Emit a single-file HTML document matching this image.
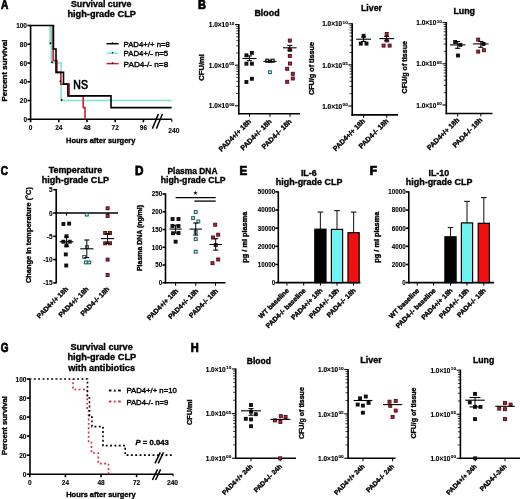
<!DOCTYPE html>
<html><head><meta charset="utf-8"><style>
html,body{margin:0;padding:0;background:#fff;}
svg{display:block;will-change:transform;}
text{font-family:"Liberation Sans", sans-serif;font-weight:bold;stroke:#000;stroke-width:0.35px;}
</style></head><body>
<svg width="520" height="499" viewBox="0 0 520 499">
<rect width="520" height="499" fill="#fff"/>
<text transform="translate(0.95 9.00) scale(0.832 1)" font-size="12.20" style="stroke-width:0.75px">A</text>
<text x="101.20" y="6.60" font-size="9.00" text-anchor="middle" textLength="60.50" lengthAdjust="spacingAndGlyphs">Survival curve</text>
<text x="101.70" y="16.70" font-size="9.00" text-anchor="middle" textLength="68.50" lengthAdjust="spacingAndGlyphs">high-grade CLP</text>
<line x1="27.40" y1="119.30" x2="30.60" y2="119.30" stroke="#000" stroke-width="1.60"/>
<text x="27.00" y="121.80" font-size="7.40" text-anchor="end" textLength="3.62" lengthAdjust="spacingAndGlyphs" style="stroke-width:0.12px">0</text>
<line x1="27.40" y1="100.54" x2="30.60" y2="100.54" stroke="#000" stroke-width="1.60"/>
<text x="27.00" y="103.04" font-size="7.40" text-anchor="end" textLength="7.23" lengthAdjust="spacingAndGlyphs" style="stroke-width:0.12px">20</text>
<line x1="27.40" y1="81.78" x2="30.60" y2="81.78" stroke="#000" stroke-width="1.60"/>
<text x="27.00" y="84.28" font-size="7.40" text-anchor="end" textLength="7.23" lengthAdjust="spacingAndGlyphs" style="stroke-width:0.12px">40</text>
<line x1="27.40" y1="63.02" x2="30.60" y2="63.02" stroke="#000" stroke-width="1.60"/>
<text x="27.00" y="65.52" font-size="7.40" text-anchor="end" textLength="7.23" lengthAdjust="spacingAndGlyphs" style="stroke-width:0.12px">60</text>
<line x1="27.40" y1="44.26" x2="30.60" y2="44.26" stroke="#000" stroke-width="1.60"/>
<text x="27.00" y="46.76" font-size="7.40" text-anchor="end" textLength="7.23" lengthAdjust="spacingAndGlyphs" style="stroke-width:0.12px">80</text>
<line x1="27.40" y1="25.50" x2="30.60" y2="25.50" stroke="#000" stroke-width="1.60"/>
<text x="27.00" y="28.00" font-size="7.40" text-anchor="end" textLength="10.85" lengthAdjust="spacingAndGlyphs" style="stroke-width:0.12px">100</text>
<line x1="30.60" y1="24.90" x2="30.60" y2="119.90" stroke="#000" stroke-width="1.60"/>
<line x1="30.00" y1="119.30" x2="171.60" y2="119.30" stroke="#000" stroke-width="1.60"/>
<line x1="30.60" y1="119.30" x2="30.60" y2="122.30" stroke="#000" stroke-width="1.60"/>
<text x="30.60" y="130.20" font-size="7.40" text-anchor="middle" textLength="3.62" lengthAdjust="spacingAndGlyphs" style="stroke-width:0.12px">0</text>
<line x1="58.80" y1="119.30" x2="58.80" y2="122.30" stroke="#000" stroke-width="1.60"/>
<text x="58.80" y="130.20" font-size="7.40" text-anchor="middle" textLength="7.23" lengthAdjust="spacingAndGlyphs" style="stroke-width:0.12px">24</text>
<line x1="87.00" y1="119.30" x2="87.00" y2="122.30" stroke="#000" stroke-width="1.60"/>
<text x="87.00" y="130.20" font-size="7.40" text-anchor="middle" textLength="7.23" lengthAdjust="spacingAndGlyphs" style="stroke-width:0.12px">48</text>
<line x1="115.20" y1="119.30" x2="115.20" y2="122.30" stroke="#000" stroke-width="1.60"/>
<text x="115.20" y="130.20" font-size="7.40" text-anchor="middle" textLength="7.23" lengthAdjust="spacingAndGlyphs" style="stroke-width:0.12px">72</text>
<line x1="143.40" y1="119.30" x2="143.40" y2="122.30" stroke="#000" stroke-width="1.60"/>
<text x="143.40" y="130.20" font-size="7.40" text-anchor="middle" textLength="7.23" lengthAdjust="spacingAndGlyphs" style="stroke-width:0.12px">96</text>
<text x="173.80" y="132.80" font-size="7.40" text-anchor="middle" textLength="11.18" lengthAdjust="spacingAndGlyphs" style="stroke-width:0.12px">240</text>
<line x1="152.40" y1="128.60" x2="158.40" y2="114.00" stroke="#000" stroke-width="1.50"/>
<line x1="156.40" y1="128.60" x2="162.40" y2="114.00" stroke="#000" stroke-width="1.50"/>
<line x1="171.80" y1="119.30" x2="171.80" y2="121.70" stroke="#000" stroke-width="1.20"/>
<text x="66.00" y="142.90" font-size="7.60" textLength="69.40" lengthAdjust="spacingAndGlyphs">Hours after surgery</text>
<text x="6.90" y="70.50" font-size="8.00" text-anchor="middle" textLength="62.00" lengthAdjust="spacingAndGlyphs" transform="rotate(-90 6.90 70.50)">Percent survival</text>
<rect x="50.60" y="26.20" width="2.20" height="34.00" fill="#a3bdb5"/>
<path d="M50.1 25.50 V44.26 H51.6 V63.02 H61.1 V100.54 H171.6" fill="none" stroke="#7fe3d0" stroke-width="1.50"/>
<path d="M53.3 25.50 V60.67 H57.0 V72.40 H60.8 V84.12 H69.2 V95.85 H83.2 V107.58 H85 V119.30" fill="none" stroke="#d0202e" stroke-width="1.60"/>
<path d="M30.6 25.50 H53.4 V48.95 H56.0 V72.40 H63.5 V84.12 H67.9 V95.85 H111 V107.58 H171.6" fill="none" stroke="#000" stroke-width="1.60"/>
<circle cx="50.50" cy="43.20" r="0.9" fill="#000"/>
<circle cx="52.00" cy="62.20" r="0.9" fill="#000"/>
<circle cx="60.40" cy="81.20" r="0.9" fill="#000"/>
<circle cx="61.70" cy="99.90" r="0.9" fill="#000"/>
<text x="73.30" y="88.60" font-size="12.00" textLength="14.60" lengthAdjust="spacingAndGlyphs" style="font-weight:normal;stroke-width:0.7px">NS</text>
<line x1="106.50" y1="43.70" x2="118.60" y2="43.70" stroke="#000" stroke-width="1.50"/>
<circle cx="112.5" cy="43.10" r="0.8" fill="#000"/>
<text x="123.60" y="46.80" font-size="7.80" style="font-weight:normal;stroke-width:0.4px" textLength="46.20" lengthAdjust="spacingAndGlyphs">PAD4+/+ n=8</text>
<line x1="106.50" y1="53.30" x2="118.60" y2="53.30" stroke="#7fe3d0" stroke-width="1.50"/>
<circle cx="112.5" cy="52.70" r="0.8" fill="#000"/>
<text x="123.60" y="56.40" font-size="7.80" style="font-weight:normal;stroke-width:0.4px" textLength="44.60" lengthAdjust="spacingAndGlyphs">PAD4+/- n=5</text>
<line x1="106.50" y1="63.60" x2="118.60" y2="63.60" stroke="#c02030" stroke-width="1.50"/>
<circle cx="112.5" cy="63.00" r="0.8" fill="#000"/>
<text x="123.60" y="66.70" font-size="7.80" style="font-weight:normal;stroke-width:0.4px" textLength="44.60" lengthAdjust="spacingAndGlyphs">PAD4-/- n=8</text>
<text transform="translate(198.06 9.00) scale(0.902 1)" font-size="12.20" style="stroke-width:0.75px">B</text>
<line x1="238.80" y1="24.00" x2="238.80" y2="114.60" stroke="#000" stroke-width="1.60"/>
<line x1="238.00" y1="113.80" x2="300.00" y2="113.80" stroke="#000" stroke-width="1.60"/>
<line x1="236.20" y1="93.58" x2="238.80" y2="93.58" stroke="#000" stroke-width="0.75"/>
<line x1="236.20" y1="86.43" x2="238.80" y2="86.43" stroke="#000" stroke-width="0.75"/>
<line x1="236.20" y1="81.36" x2="238.80" y2="81.36" stroke="#000" stroke-width="0.75"/>
<line x1="236.20" y1="77.42" x2="238.80" y2="77.42" stroke="#000" stroke-width="0.75"/>
<line x1="236.20" y1="74.21" x2="238.80" y2="74.21" stroke="#000" stroke-width="0.75"/>
<line x1="236.20" y1="71.49" x2="238.80" y2="71.49" stroke="#000" stroke-width="0.75"/>
<line x1="236.20" y1="69.13" x2="238.80" y2="69.13" stroke="#000" stroke-width="0.75"/>
<line x1="236.20" y1="67.06" x2="238.80" y2="67.06" stroke="#000" stroke-width="0.75"/>
<line x1="236.20" y1="52.98" x2="238.80" y2="52.98" stroke="#000" stroke-width="0.75"/>
<line x1="236.20" y1="45.83" x2="238.80" y2="45.83" stroke="#000" stroke-width="0.75"/>
<line x1="236.20" y1="40.76" x2="238.80" y2="40.76" stroke="#000" stroke-width="0.75"/>
<line x1="236.20" y1="36.82" x2="238.80" y2="36.82" stroke="#000" stroke-width="0.75"/>
<line x1="236.20" y1="33.61" x2="238.80" y2="33.61" stroke="#000" stroke-width="0.75"/>
<line x1="236.20" y1="30.89" x2="238.80" y2="30.89" stroke="#000" stroke-width="0.75"/>
<line x1="236.20" y1="28.53" x2="238.80" y2="28.53" stroke="#000" stroke-width="0.75"/>
<line x1="236.20" y1="26.46" x2="238.80" y2="26.46" stroke="#000" stroke-width="0.75"/>
<line x1="235.00" y1="24.60" x2="238.80" y2="24.60" stroke="#000" stroke-width="1.10"/>
<text x="228.80" y="27.20" font-size="6.40" text-anchor="end" textLength="20.00" lengthAdjust="spacingAndGlyphs" style="stroke-width:0.15px">1.0×10</text>
<text x="229.20" y="24.70" font-size="4.30" textLength="5.20" lengthAdjust="spacingAndGlyphs" style="stroke-width:0.1px">10</text>
<line x1="235.00" y1="65.20" x2="238.80" y2="65.20" stroke="#000" stroke-width="1.10"/>
<text x="228.80" y="67.80" font-size="6.40" text-anchor="end" textLength="20.00" lengthAdjust="spacingAndGlyphs" style="stroke-width:0.15px">1.0×10</text>
<text x="229.20" y="65.30" font-size="4.30" textLength="5.20" lengthAdjust="spacingAndGlyphs" style="stroke-width:0.1px">05</text>
<line x1="235.00" y1="105.80" x2="238.80" y2="105.80" stroke="#000" stroke-width="1.10"/>
<text x="228.80" y="108.40" font-size="6.40" text-anchor="end" textLength="20.00" lengthAdjust="spacingAndGlyphs" style="stroke-width:0.15px">1.0×10</text>
<text x="229.20" y="105.90" font-size="4.30" textLength="5.20" lengthAdjust="spacingAndGlyphs" style="stroke-width:0.1px">00</text>
<line x1="249.50" y1="113.80" x2="249.50" y2="116.80" stroke="#000" stroke-width="1.00"/>
<line x1="270.00" y1="113.80" x2="270.00" y2="116.80" stroke="#000" stroke-width="1.00"/>
<line x1="290.00" y1="113.80" x2="290.00" y2="116.80" stroke="#000" stroke-width="1.00"/>
<text x="267.00" y="15.80" font-size="8.80" text-anchor="middle" textLength="25.20" lengthAdjust="spacingAndGlyphs">Blood</text>
<text x="204.00" y="67.40" font-size="7.00" text-anchor="middle" textLength="26.70" lengthAdjust="spacingAndGlyphs" transform="rotate(-90 204.00 67.40)">CFU/ml</text>
<rect x="244.45" y="53.35" width="3.90" height="3.90" fill="#111"/>
<rect x="249.95" y="50.95" width="3.90" height="3.90" fill="#111"/>
<rect x="244.45" y="61.75" width="3.90" height="3.90" fill="#111"/>
<rect x="249.95" y="61.75" width="3.90" height="3.90" fill="#111"/>
<rect x="244.45" y="80.05" width="3.90" height="3.90" fill="#111"/>
<rect x="249.95" y="76.85" width="3.90" height="3.90" fill="#111"/>
<line x1="242.40" y1="58.50" x2="256.40" y2="58.50" stroke="#000" stroke-width="1.10"/>
<line x1="249.40" y1="55.90" x2="249.40" y2="60.70" stroke="#000" stroke-width="0.99"/>
<line x1="246.90" y1="55.90" x2="251.90" y2="55.90" stroke="#000" stroke-width="1.10"/>
<line x1="246.90" y1="60.70" x2="251.90" y2="60.70" stroke="#000" stroke-width="1.10"/>
<rect x="265.85" y="59.25" width="2.90" height="2.90" fill="#fff" stroke="#0c2222" stroke-width="1.30"/>
<rect x="271.15" y="59.25" width="2.90" height="2.90" fill="#fff" stroke="#0c2222" stroke-width="1.30"/>
<rect x="268.50" y="70.80" width="2.80" height="2.80" fill="#f4ffff" stroke="#1d6060" stroke-width="1.10"/>
<line x1="263.30" y1="61.40" x2="276.50" y2="61.40" stroke="#000" stroke-width="1.10"/>
<line x1="269.90" y1="60.60" x2="269.90" y2="62.20" stroke="#000" stroke-width="0.99"/>
<line x1="267.90" y1="60.60" x2="271.90" y2="60.60" stroke="#000" stroke-width="1.10"/>
<line x1="267.90" y1="62.20" x2="271.90" y2="62.20" stroke="#000" stroke-width="1.10"/>
<rect x="288.30" y="39.10" width="3.00" height="3.00" fill="#b3273a" stroke="#4a0a12" stroke-width="0.90"/>
<rect x="288.30" y="48.40" width="3.00" height="3.00" fill="#b3273a" stroke="#4a0a12" stroke-width="0.90"/>
<rect x="288.30" y="54.40" width="3.00" height="3.00" fill="#b3273a" stroke="#4a0a12" stroke-width="0.90"/>
<rect x="288.50" y="62.00" width="3.00" height="3.00" fill="#b3273a" stroke="#4a0a12" stroke-width="0.90"/>
<rect x="285.70" y="67.30" width="3.00" height="3.00" fill="#b3273a" stroke="#4a0a12" stroke-width="0.90"/>
<rect x="291.30" y="72.30" width="3.00" height="3.00" fill="#b3273a" stroke="#4a0a12" stroke-width="0.90"/>
<rect x="291.30" y="77.00" width="3.00" height="3.00" fill="#b3273a" stroke="#4a0a12" stroke-width="0.90"/>
<rect x="285.70" y="80.30" width="3.00" height="3.00" fill="#b3273a" stroke="#4a0a12" stroke-width="0.90"/>
<line x1="283.00" y1="47.80" x2="296.60" y2="47.80" stroke="#000" stroke-width="1.10"/>
<line x1="289.80" y1="45.40" x2="289.80" y2="50.20" stroke="#000" stroke-width="0.99"/>
<line x1="287.30" y1="45.40" x2="292.30" y2="45.40" stroke="#000" stroke-width="1.10"/>
<line x1="287.30" y1="50.20" x2="292.30" y2="50.20" stroke="#000" stroke-width="1.10"/>
<text x="251.50" y="122.00" font-size="7.00" text-anchor="end" transform="rotate(-45 251.50 122.00)">PAD4+/+ 18h</text>
<text x="272.00" y="122.00" font-size="7.00" text-anchor="end" transform="rotate(-45 272.00 122.00)">PAD4+/- 18h</text>
<text x="292.00" y="122.00" font-size="7.00" text-anchor="end" transform="rotate(-45 292.00 122.00)">PAD4-/- 18h</text>
<line x1="352.20" y1="23.20" x2="352.20" y2="115.70" stroke="#000" stroke-width="1.60"/>
<line x1="351.40" y1="114.90" x2="398.00" y2="114.90" stroke="#000" stroke-width="1.60"/>
<line x1="349.60" y1="93.63" x2="352.20" y2="93.63" stroke="#000" stroke-width="0.75"/>
<line x1="349.60" y1="86.39" x2="352.20" y2="86.39" stroke="#000" stroke-width="0.75"/>
<line x1="349.60" y1="81.26" x2="352.20" y2="81.26" stroke="#000" stroke-width="0.75"/>
<line x1="349.60" y1="77.27" x2="352.20" y2="77.27" stroke="#000" stroke-width="0.75"/>
<line x1="349.60" y1="74.02" x2="352.20" y2="74.02" stroke="#000" stroke-width="0.75"/>
<line x1="349.60" y1="71.27" x2="352.20" y2="71.27" stroke="#000" stroke-width="0.75"/>
<line x1="349.60" y1="68.88" x2="352.20" y2="68.88" stroke="#000" stroke-width="0.75"/>
<line x1="349.60" y1="66.78" x2="352.20" y2="66.78" stroke="#000" stroke-width="0.75"/>
<line x1="349.60" y1="52.53" x2="352.20" y2="52.53" stroke="#000" stroke-width="0.75"/>
<line x1="349.60" y1="45.29" x2="352.20" y2="45.29" stroke="#000" stroke-width="0.75"/>
<line x1="349.60" y1="40.16" x2="352.20" y2="40.16" stroke="#000" stroke-width="0.75"/>
<line x1="349.60" y1="36.17" x2="352.20" y2="36.17" stroke="#000" stroke-width="0.75"/>
<line x1="349.60" y1="32.92" x2="352.20" y2="32.92" stroke="#000" stroke-width="0.75"/>
<line x1="349.60" y1="30.17" x2="352.20" y2="30.17" stroke="#000" stroke-width="0.75"/>
<line x1="349.60" y1="27.78" x2="352.20" y2="27.78" stroke="#000" stroke-width="0.75"/>
<line x1="349.60" y1="25.68" x2="352.20" y2="25.68" stroke="#000" stroke-width="0.75"/>
<line x1="348.40" y1="23.80" x2="352.20" y2="23.80" stroke="#000" stroke-width="1.10"/>
<text x="342.20" y="26.40" font-size="6.40" text-anchor="end" textLength="20.00" lengthAdjust="spacingAndGlyphs" style="stroke-width:0.15px">1.0×10</text>
<text x="342.60" y="23.90" font-size="4.30" textLength="5.20" lengthAdjust="spacingAndGlyphs" style="stroke-width:0.1px">10</text>
<line x1="348.40" y1="64.90" x2="352.20" y2="64.90" stroke="#000" stroke-width="1.10"/>
<text x="342.20" y="67.50" font-size="6.40" text-anchor="end" textLength="20.00" lengthAdjust="spacingAndGlyphs" style="stroke-width:0.15px">1.0×10</text>
<text x="342.60" y="65.00" font-size="4.30" textLength="5.20" lengthAdjust="spacingAndGlyphs" style="stroke-width:0.1px">05</text>
<line x1="348.40" y1="106.00" x2="352.20" y2="106.00" stroke="#000" stroke-width="1.10"/>
<text x="342.20" y="108.60" font-size="6.40" text-anchor="end" textLength="20.00" lengthAdjust="spacingAndGlyphs" style="stroke-width:0.15px">1.0×10</text>
<text x="342.60" y="106.10" font-size="4.30" textLength="5.20" lengthAdjust="spacingAndGlyphs" style="stroke-width:0.1px">00</text>
<line x1="363.60" y1="114.90" x2="363.60" y2="117.90" stroke="#000" stroke-width="1.00"/>
<line x1="386.80" y1="114.90" x2="386.80" y2="117.90" stroke="#000" stroke-width="1.00"/>
<text x="371.50" y="11.00" font-size="8.60" text-anchor="middle" textLength="21.00" lengthAdjust="spacingAndGlyphs">Liver</text>
<text x="313.90" y="68.50" font-size="7.40" text-anchor="middle" textLength="53.00" lengthAdjust="spacingAndGlyphs" transform="rotate(-90 313.90 68.50)">CFU/g of tissue</text>
<rect x="361.65" y="33.85" width="3.90" height="3.90" fill="#111"/>
<rect x="358.85" y="41.65" width="3.90" height="3.90" fill="#111"/>
<rect x="364.55" y="41.65" width="3.90" height="3.90" fill="#111"/>
<line x1="356.20" y1="39.20" x2="371.00" y2="39.20" stroke="#000" stroke-width="1.10"/>
<line x1="363.60" y1="36.90" x2="363.60" y2="41.50" stroke="#000" stroke-width="0.99"/>
<line x1="361.10" y1="36.90" x2="366.10" y2="36.90" stroke="#000" stroke-width="1.10"/>
<line x1="361.10" y1="41.50" x2="366.10" y2="41.50" stroke="#000" stroke-width="1.10"/>
<rect x="385.20" y="32.50" width="3.00" height="3.00" fill="#b3273a" stroke="#4a0a12" stroke-width="0.90"/>
<rect x="385.20" y="38.90" width="3.00" height="3.00" fill="#b3273a" stroke="#4a0a12" stroke-width="0.90"/>
<rect x="382.10" y="44.10" width="3.00" height="3.00" fill="#b3273a" stroke="#4a0a12" stroke-width="0.90"/>
<rect x="388.10" y="44.10" width="3.00" height="3.00" fill="#b3273a" stroke="#4a0a12" stroke-width="0.90"/>
<line x1="379.30" y1="38.60" x2="394.10" y2="38.60" stroke="#000" stroke-width="1.10"/>
<line x1="386.70" y1="36.40" x2="386.70" y2="40.80" stroke="#000" stroke-width="0.99"/>
<line x1="384.20" y1="36.40" x2="389.20" y2="36.40" stroke="#000" stroke-width="1.10"/>
<line x1="384.20" y1="40.80" x2="389.20" y2="40.80" stroke="#000" stroke-width="1.10"/>
<text x="365.60" y="121.50" font-size="7.00" text-anchor="end" transform="rotate(-45 365.60 121.50)">PAD4+/+ 18h</text>
<text x="389.00" y="121.50" font-size="7.00" text-anchor="end" transform="rotate(-45 389.00 121.50)">PAD4-/- 18h</text>
<line x1="446.30" y1="22.00" x2="446.30" y2="114.30" stroke="#000" stroke-width="1.60"/>
<line x1="445.50" y1="113.50" x2="492.50" y2="113.50" stroke="#000" stroke-width="1.60"/>
<line x1="443.70" y1="92.60" x2="446.30" y2="92.60" stroke="#000" stroke-width="0.75"/>
<line x1="443.70" y1="85.34" x2="446.30" y2="85.34" stroke="#000" stroke-width="0.75"/>
<line x1="443.70" y1="80.20" x2="446.30" y2="80.20" stroke="#000" stroke-width="0.75"/>
<line x1="443.70" y1="76.20" x2="446.30" y2="76.20" stroke="#000" stroke-width="0.75"/>
<line x1="443.70" y1="72.94" x2="446.30" y2="72.94" stroke="#000" stroke-width="0.75"/>
<line x1="443.70" y1="70.18" x2="446.30" y2="70.18" stroke="#000" stroke-width="0.75"/>
<line x1="443.70" y1="67.79" x2="446.30" y2="67.79" stroke="#000" stroke-width="0.75"/>
<line x1="443.70" y1="65.69" x2="446.30" y2="65.69" stroke="#000" stroke-width="0.75"/>
<line x1="443.70" y1="51.40" x2="446.30" y2="51.40" stroke="#000" stroke-width="0.75"/>
<line x1="443.70" y1="44.14" x2="446.30" y2="44.14" stroke="#000" stroke-width="0.75"/>
<line x1="443.70" y1="39.00" x2="446.30" y2="39.00" stroke="#000" stroke-width="0.75"/>
<line x1="443.70" y1="35.00" x2="446.30" y2="35.00" stroke="#000" stroke-width="0.75"/>
<line x1="443.70" y1="31.74" x2="446.30" y2="31.74" stroke="#000" stroke-width="0.75"/>
<line x1="443.70" y1="28.98" x2="446.30" y2="28.98" stroke="#000" stroke-width="0.75"/>
<line x1="443.70" y1="26.59" x2="446.30" y2="26.59" stroke="#000" stroke-width="0.75"/>
<line x1="443.70" y1="24.49" x2="446.30" y2="24.49" stroke="#000" stroke-width="0.75"/>
<line x1="442.50" y1="22.60" x2="446.30" y2="22.60" stroke="#000" stroke-width="1.10"/>
<text x="436.30" y="25.20" font-size="6.40" text-anchor="end" textLength="20.00" lengthAdjust="spacingAndGlyphs" style="stroke-width:0.15px">1.0×10</text>
<text x="436.70" y="22.70" font-size="4.30" textLength="5.20" lengthAdjust="spacingAndGlyphs" style="stroke-width:0.1px">10</text>
<line x1="442.50" y1="63.80" x2="446.30" y2="63.80" stroke="#000" stroke-width="1.10"/>
<text x="436.30" y="66.40" font-size="6.40" text-anchor="end" textLength="20.00" lengthAdjust="spacingAndGlyphs" style="stroke-width:0.15px">1.0×10</text>
<text x="436.70" y="63.90" font-size="4.30" textLength="5.20" lengthAdjust="spacingAndGlyphs" style="stroke-width:0.1px">05</text>
<line x1="442.50" y1="105.00" x2="446.30" y2="105.00" stroke="#000" stroke-width="1.10"/>
<text x="436.30" y="107.60" font-size="6.40" text-anchor="end" textLength="20.00" lengthAdjust="spacingAndGlyphs" style="stroke-width:0.15px">1.0×10</text>
<text x="436.70" y="105.10" font-size="4.30" textLength="5.20" lengthAdjust="spacingAndGlyphs" style="stroke-width:0.1px">00</text>
<line x1="457.70" y1="113.50" x2="457.70" y2="116.50" stroke="#000" stroke-width="1.00"/>
<line x1="480.80" y1="113.50" x2="480.80" y2="116.50" stroke="#000" stroke-width="1.00"/>
<text x="464.20" y="14.30" font-size="8.80" text-anchor="middle" textLength="21.60" lengthAdjust="spacingAndGlyphs">Lung</text>
<text x="407.40" y="67.20" font-size="7.40" text-anchor="middle" textLength="52.50" lengthAdjust="spacingAndGlyphs" transform="rotate(-90 407.40 67.20)">CFU/g of tissue</text>
<rect x="453.15" y="40.05" width="3.90" height="3.90" fill="#111"/>
<rect x="458.45" y="42.95" width="3.90" height="3.90" fill="#111"/>
<rect x="456.05" y="53.55" width="3.90" height="3.90" fill="#111"/>
<line x1="449.90" y1="44.90" x2="465.50" y2="44.90" stroke="#000" stroke-width="1.10"/>
<line x1="457.70" y1="41.50" x2="457.70" y2="48.30" stroke="#000" stroke-width="0.99"/>
<line x1="455.20" y1="41.50" x2="460.20" y2="41.50" stroke="#000" stroke-width="1.10"/>
<line x1="455.20" y1="48.30" x2="460.20" y2="48.30" stroke="#000" stroke-width="1.10"/>
<rect x="476.70" y="38.10" width="3.00" height="3.00" fill="#b3273a" stroke="#4a0a12" stroke-width="0.90"/>
<rect x="476.70" y="50.10" width="3.00" height="3.00" fill="#b3273a" stroke="#4a0a12" stroke-width="0.90"/>
<rect x="482.40" y="48.70" width="3.00" height="3.00" fill="#b3273a" stroke="#4a0a12" stroke-width="0.90"/>
<rect x="482.00" y="42.40" width="3.00" height="3.00" fill="#2a0508" stroke="#1a0004" stroke-width="0.90"/>
<line x1="473.00" y1="43.90" x2="488.60" y2="43.90" stroke="#000" stroke-width="1.10"/>
<line x1="480.80" y1="41.50" x2="480.80" y2="47.30" stroke="#000" stroke-width="0.99"/>
<line x1="478.30" y1="41.50" x2="483.30" y2="41.50" stroke="#000" stroke-width="1.10"/>
<line x1="478.30" y1="47.30" x2="483.30" y2="47.30" stroke="#000" stroke-width="1.10"/>
<text x="459.70" y="120.50" font-size="7.00" text-anchor="end" transform="rotate(-45 459.70 120.50)">PAD4+/+ 18h</text>
<text x="482.80" y="120.50" font-size="7.00" text-anchor="end" transform="rotate(-45 482.80 120.50)">PAD4-/- 18h</text>
<text transform="translate(0.79 175.00) scale(0.816 1)" font-size="12.20" style="stroke-width:0.75px">C</text>
<text x="75.40" y="172.80" font-size="8.90" text-anchor="middle" textLength="53.50" lengthAdjust="spacingAndGlyphs">Temperature</text>
<text x="75.30" y="182.80" font-size="8.90" text-anchor="middle" textLength="67.30" lengthAdjust="spacingAndGlyphs">high-grade CLP</text>
<line x1="56.20" y1="189.10" x2="56.20" y2="283.50" stroke="#000" stroke-width="1.60"/>
<line x1="53.20" y1="189.70" x2="56.20" y2="189.70" stroke="#000" stroke-width="1.60"/>
<text x="52.60" y="192.20" font-size="7.40" text-anchor="end" textLength="3.62" lengthAdjust="spacingAndGlyphs" style="stroke-width:0.12px">5</text>
<line x1="53.20" y1="213.00" x2="56.20" y2="213.00" stroke="#000" stroke-width="1.60"/>
<text x="52.60" y="215.50" font-size="7.40" text-anchor="end" textLength="3.62" lengthAdjust="spacingAndGlyphs" style="stroke-width:0.12px">0</text>
<line x1="53.20" y1="236.30" x2="56.20" y2="236.30" stroke="#000" stroke-width="1.60"/>
<text x="52.60" y="238.80" font-size="7.40" text-anchor="end" textLength="5.78" lengthAdjust="spacingAndGlyphs" style="stroke-width:0.12px">-5</text>
<line x1="53.20" y1="259.60" x2="56.20" y2="259.60" stroke="#000" stroke-width="1.60"/>
<text x="52.60" y="262.10" font-size="7.40" text-anchor="end" textLength="9.40" lengthAdjust="spacingAndGlyphs" style="stroke-width:0.12px">-10</text>
<line x1="53.20" y1="282.90" x2="56.20" y2="282.90" stroke="#000" stroke-width="1.60"/>
<text x="52.60" y="285.40" font-size="7.40" text-anchor="end" textLength="9.40" lengthAdjust="spacingAndGlyphs" style="stroke-width:0.12px">-15</text>
<line x1="56.20" y1="213.00" x2="118.00" y2="213.00" stroke="#000" stroke-width="1.60"/>
<line x1="66.50" y1="213.00" x2="66.50" y2="215.80" stroke="#000" stroke-width="1.00"/>
<line x1="86.80" y1="213.00" x2="86.80" y2="215.80" stroke="#000" stroke-width="1.00"/>
<line x1="107.80" y1="213.00" x2="107.80" y2="215.80" stroke="#000" stroke-width="1.00"/>
<text x="30.60" y="235.10" font-size="7.50" text-anchor="middle" textLength="96.00" lengthAdjust="spacingAndGlyphs" transform="rotate(-90 30.60 235.10)">Change in temperature (°C)</text>
<rect x="61.45" y="222.05" width="3.90" height="3.90" fill="#111"/>
<rect x="67.15" y="221.65" width="3.90" height="3.90" fill="#111"/>
<rect x="64.55" y="234.25" width="3.90" height="3.90" fill="#111"/>
<rect x="61.35" y="239.75" width="3.90" height="3.90" fill="#111"/>
<rect x="67.75" y="239.75" width="3.90" height="3.90" fill="#111"/>
<rect x="64.55" y="243.55" width="3.90" height="3.90" fill="#111"/>
<rect x="63.85" y="252.45" width="3.90" height="3.90" fill="#111"/>
<rect x="64.25" y="263.55" width="3.90" height="3.90" fill="#111"/>
<line x1="59.70" y1="241.80" x2="73.30" y2="241.80" stroke="#000" stroke-width="1.10"/>
<line x1="66.50" y1="237.00" x2="66.50" y2="246.30" stroke="#000" stroke-width="0.99"/>
<line x1="64.00" y1="237.00" x2="69.00" y2="237.00" stroke="#000" stroke-width="1.10"/>
<line x1="64.00" y1="246.30" x2="69.00" y2="246.30" stroke="#000" stroke-width="1.10"/>
<rect x="85.40" y="213.20" width="2.80" height="2.80" fill="#f4ffff" stroke="#1d6060" stroke-width="1.10"/>
<rect x="85.60" y="245.60" width="2.80" height="2.80" fill="#f4ffff" stroke="#1d6060" stroke-width="1.10"/>
<rect x="82.80" y="255.60" width="2.80" height="2.80" fill="#f4ffff" stroke="#1d6060" stroke-width="1.10"/>
<rect x="84.40" y="261.00" width="2.80" height="2.80" fill="#f4ffff" stroke="#1d6060" stroke-width="1.10"/>
<rect x="87.80" y="261.00" width="2.80" height="2.80" fill="#f4ffff" stroke="#1d6060" stroke-width="1.10"/>
<line x1="80.20" y1="248.80" x2="93.40" y2="248.80" stroke="#000" stroke-width="1.10"/>
<line x1="86.80" y1="240.00" x2="86.80" y2="257.60" stroke="#000" stroke-width="0.99"/>
<line x1="84.30" y1="240.00" x2="89.30" y2="240.00" stroke="#000" stroke-width="1.10"/>
<line x1="84.30" y1="257.60" x2="89.30" y2="257.60" stroke="#000" stroke-width="1.10"/>
<rect x="106.10" y="206.80" width="3.00" height="3.00" fill="#b3273a" stroke="#4a0a12" stroke-width="0.90"/>
<rect x="106.10" y="214.50" width="3.00" height="3.00" fill="#b3273a" stroke="#4a0a12" stroke-width="0.90"/>
<rect x="103.70" y="231.50" width="3.00" height="3.00" fill="#b3273a" stroke="#4a0a12" stroke-width="0.90"/>
<rect x="108.50" y="231.50" width="3.00" height="3.00" fill="#b3273a" stroke="#4a0a12" stroke-width="0.90"/>
<rect x="103.70" y="241.80" width="3.00" height="3.00" fill="#b3273a" stroke="#4a0a12" stroke-width="0.90"/>
<rect x="108.50" y="241.80" width="3.00" height="3.00" fill="#b3273a" stroke="#4a0a12" stroke-width="0.90"/>
<rect x="106.10" y="258.10" width="3.00" height="3.00" fill="#b3273a" stroke="#4a0a12" stroke-width="0.90"/>
<rect x="106.10" y="273.50" width="3.00" height="3.00" fill="#b3273a" stroke="#4a0a12" stroke-width="0.90"/>
<line x1="101.00" y1="238.60" x2="114.20" y2="238.60" stroke="#000" stroke-width="1.10"/>
<line x1="107.60" y1="233.60" x2="107.60" y2="243.50" stroke="#000" stroke-width="0.99"/>
<line x1="105.10" y1="233.60" x2="110.10" y2="233.60" stroke="#000" stroke-width="1.10"/>
<line x1="105.10" y1="243.50" x2="110.10" y2="243.50" stroke="#000" stroke-width="1.10"/>
<text x="68.60" y="289.60" font-size="6.80" text-anchor="end" transform="rotate(-45 68.60 289.60)">PAD4+/+ 18h</text>
<text x="89.00" y="289.60" font-size="6.80" text-anchor="end" transform="rotate(-45 89.00 289.60)">PAD4+/- 18h</text>
<text x="109.80" y="289.60" font-size="6.80" text-anchor="end" transform="rotate(-45 109.80 289.60)">PAD4-/- 18h</text>
<text transform="translate(135.11 174.90) scale(0.964 1)" font-size="12.20" style="stroke-width:0.75px">D</text>
<text x="192.50" y="173.60" font-size="8.90" text-anchor="middle" textLength="50.00" lengthAdjust="spacingAndGlyphs">Plasma DNA</text>
<text x="193.20" y="183.00" font-size="8.90" text-anchor="middle" textLength="64.80" lengthAdjust="spacingAndGlyphs">high-grade CLP</text>
<line x1="165.50" y1="193.40" x2="165.50" y2="283.40" stroke="#000" stroke-width="1.60"/>
<line x1="162.50" y1="282.80" x2="165.50" y2="282.80" stroke="#000" stroke-width="1.60"/>
<text x="162.10" y="285.20" font-size="7.00" text-anchor="end" textLength="3.45" lengthAdjust="spacingAndGlyphs" style="stroke-width:0.12px">0</text>
<line x1="162.50" y1="265.04" x2="165.50" y2="265.04" stroke="#000" stroke-width="1.60"/>
<text x="162.10" y="267.44" font-size="7.00" text-anchor="end" textLength="6.90" lengthAdjust="spacingAndGlyphs" style="stroke-width:0.12px">50</text>
<line x1="162.50" y1="247.28" x2="165.50" y2="247.28" stroke="#000" stroke-width="1.60"/>
<text x="162.10" y="249.68" font-size="7.00" text-anchor="end" textLength="10.34" lengthAdjust="spacingAndGlyphs" style="stroke-width:0.12px">100</text>
<line x1="162.50" y1="229.52" x2="165.50" y2="229.52" stroke="#000" stroke-width="1.60"/>
<text x="162.10" y="231.92" font-size="7.00" text-anchor="end" textLength="10.34" lengthAdjust="spacingAndGlyphs" style="stroke-width:0.12px">150</text>
<line x1="162.50" y1="211.76" x2="165.50" y2="211.76" stroke="#000" stroke-width="1.60"/>
<text x="162.10" y="214.16" font-size="7.00" text-anchor="end" textLength="10.34" lengthAdjust="spacingAndGlyphs" style="stroke-width:0.12px">200</text>
<line x1="162.50" y1="194.00" x2="165.50" y2="194.00" stroke="#000" stroke-width="1.60"/>
<text x="162.10" y="196.40" font-size="7.00" text-anchor="end" textLength="10.34" lengthAdjust="spacingAndGlyphs" style="stroke-width:0.12px">250</text>
<line x1="164.90" y1="282.80" x2="225.50" y2="282.80" stroke="#000" stroke-width="1.60"/>
<line x1="175.60" y1="282.80" x2="175.60" y2="285.80" stroke="#000" stroke-width="1.00"/>
<line x1="195.70" y1="282.80" x2="195.70" y2="285.80" stroke="#000" stroke-width="1.00"/>
<line x1="215.50" y1="282.80" x2="215.50" y2="285.80" stroke="#000" stroke-width="1.00"/>
<text x="142.30" y="238.00" font-size="7.00" text-anchor="middle" textLength="66.00" lengthAdjust="spacingAndGlyphs" transform="rotate(-90 142.30 238.00)">Plasma DNA (ng/ml)</text>
<line x1="175.60" y1="197.60" x2="215.70" y2="197.60" stroke="#000" stroke-width="1.30"/>
<line x1="194.40" y1="201.10" x2="215.70" y2="201.10" stroke="#000" stroke-width="1.30"/>
<polygon points="195.50,190.70 196.06,192.23 197.69,192.29 196.40,193.29 196.85,194.86 195.50,193.95 194.15,194.86 194.60,193.29 193.31,192.29 194.94,192.23" fill="#000"/>
<rect x="170.55" y="217.05" width="3.90" height="3.90" fill="#111"/>
<rect x="176.55" y="217.05" width="3.90" height="3.90" fill="#111"/>
<rect x="170.55" y="224.05" width="3.90" height="3.90" fill="#111"/>
<rect x="176.55" y="224.05" width="3.90" height="3.90" fill="#111"/>
<rect x="171.05" y="231.25" width="3.90" height="3.90" fill="#111"/>
<rect x="176.55" y="231.05" width="3.90" height="3.90" fill="#111"/>
<rect x="173.65" y="239.75" width="3.90" height="3.90" fill="#111"/>
<line x1="169.40" y1="229.10" x2="181.80" y2="229.10" stroke="#000" stroke-width="1.10"/>
<line x1="175.60" y1="225.30" x2="175.60" y2="233.00" stroke="#000" stroke-width="0.99"/>
<line x1="173.10" y1="225.30" x2="178.10" y2="225.30" stroke="#000" stroke-width="1.10"/>
<line x1="173.10" y1="233.00" x2="178.10" y2="233.00" stroke="#000" stroke-width="1.10"/>
<rect x="191.70" y="216.70" width="2.80" height="2.80" fill="#f4ffff" stroke="#1d6060" stroke-width="1.10"/>
<rect x="194.30" y="210.60" width="2.80" height="2.80" fill="#f4ffff" stroke="#1d6060" stroke-width="1.10"/>
<rect x="196.90" y="220.10" width="2.80" height="2.80" fill="#f4ffff" stroke="#1d6060" stroke-width="1.10"/>
<rect x="194.30" y="230.60" width="2.80" height="2.80" fill="#f4ffff" stroke="#1d6060" stroke-width="1.10"/>
<rect x="194.30" y="237.70" width="2.80" height="2.80" fill="#f4ffff" stroke="#1d6060" stroke-width="1.10"/>
<rect x="194.30" y="250.30" width="2.80" height="2.80" fill="#f4ffff" stroke="#1d6060" stroke-width="1.10"/>
<line x1="189.50" y1="229.10" x2="201.90" y2="229.10" stroke="#000" stroke-width="1.10"/>
<line x1="195.70" y1="223.00" x2="195.70" y2="235.10" stroke="#000" stroke-width="0.99"/>
<line x1="193.20" y1="223.00" x2="198.20" y2="223.00" stroke="#000" stroke-width="1.10"/>
<line x1="193.20" y1="235.10" x2="198.20" y2="235.10" stroke="#000" stroke-width="1.10"/>
<rect x="213.70" y="223.20" width="3.00" height="3.00" fill="#b3273a" stroke="#4a0a12" stroke-width="0.90"/>
<rect x="211.50" y="236.00" width="3.00" height="3.00" fill="#b3273a" stroke="#4a0a12" stroke-width="0.90"/>
<rect x="216.70" y="233.20" width="3.00" height="3.00" fill="#b3273a" stroke="#4a0a12" stroke-width="0.90"/>
<rect x="214.20" y="243.60" width="3.00" height="3.00" fill="#b3273a" stroke="#4a0a12" stroke-width="0.90"/>
<rect x="211.00" y="261.70" width="3.00" height="3.00" fill="#b3273a" stroke="#4a0a12" stroke-width="0.90"/>
<rect x="216.70" y="258.00" width="3.00" height="3.00" fill="#b3273a" stroke="#4a0a12" stroke-width="0.90"/>
<line x1="209.50" y1="244.50" x2="221.90" y2="244.50" stroke="#000" stroke-width="1.10"/>
<line x1="215.70" y1="238.70" x2="215.70" y2="250.10" stroke="#000" stroke-width="0.99"/>
<line x1="213.20" y1="238.70" x2="218.20" y2="238.70" stroke="#000" stroke-width="1.10"/>
<line x1="213.20" y1="250.10" x2="218.20" y2="250.10" stroke="#000" stroke-width="1.10"/>
<text x="178.80" y="291.50" font-size="6.80" text-anchor="end" transform="rotate(-45 178.80 291.50)">PAD4+/+ 18h</text>
<text x="198.80" y="291.50" font-size="6.80" text-anchor="end" transform="rotate(-45 198.80 291.50)">PAD4+/- 18h</text>
<text x="218.50" y="291.50" font-size="6.80" text-anchor="end" transform="rotate(-45 218.50 291.50)">PAD4-/- 18h</text>
<text transform="translate(239.62 174.90) scale(0.951 1)" font-size="12.20" style="stroke-width:0.75px">E</text>
<text x="308.80" y="175.80" font-size="8.90" text-anchor="middle">IL-6</text>
<text x="309.10" y="185.20" font-size="8.90" text-anchor="middle" textLength="66.60" lengthAdjust="spacingAndGlyphs">high-grade CLP</text>
<line x1="278.30" y1="191.30" x2="278.30" y2="283.20" stroke="#000" stroke-width="1.60"/>
<line x1="275.30" y1="282.60" x2="278.30" y2="282.60" stroke="#000" stroke-width="1.60"/>
<text x="275.10" y="285.00" font-size="7.00" text-anchor="end" textLength="3.45" lengthAdjust="spacingAndGlyphs" style="stroke-width:0.12px">0</text>
<line x1="275.30" y1="264.46" x2="278.30" y2="264.46" stroke="#000" stroke-width="1.60"/>
<text x="275.10" y="266.86" font-size="7.00" text-anchor="end" textLength="17.24" lengthAdjust="spacingAndGlyphs" style="stroke-width:0.12px">10000</text>
<line x1="275.30" y1="246.32" x2="278.30" y2="246.32" stroke="#000" stroke-width="1.60"/>
<text x="275.10" y="248.72" font-size="7.00" text-anchor="end" textLength="17.24" lengthAdjust="spacingAndGlyphs" style="stroke-width:0.12px">20000</text>
<line x1="275.30" y1="228.18" x2="278.30" y2="228.18" stroke="#000" stroke-width="1.60"/>
<text x="275.10" y="230.58" font-size="7.00" text-anchor="end" textLength="17.24" lengthAdjust="spacingAndGlyphs" style="stroke-width:0.12px">30000</text>
<line x1="275.30" y1="210.04" x2="278.30" y2="210.04" stroke="#000" stroke-width="1.60"/>
<text x="275.10" y="212.44" font-size="7.00" text-anchor="end" textLength="17.24" lengthAdjust="spacingAndGlyphs" style="stroke-width:0.12px">40000</text>
<line x1="275.30" y1="191.90" x2="278.30" y2="191.90" stroke="#000" stroke-width="1.60"/>
<text x="275.10" y="194.30" font-size="7.00" text-anchor="end" textLength="17.24" lengthAdjust="spacingAndGlyphs" style="stroke-width:0.12px">50000</text>
<line x1="277.70" y1="282.60" x2="360.40" y2="282.60" stroke="#000" stroke-width="1.60"/>
<line x1="286.90" y1="282.60" x2="286.90" y2="285.60" stroke="#000" stroke-width="1.00"/>
<line x1="303.70" y1="282.60" x2="303.70" y2="285.60" stroke="#000" stroke-width="1.00"/>
<line x1="320.40" y1="282.60" x2="320.40" y2="285.60" stroke="#000" stroke-width="1.00"/>
<line x1="337.00" y1="282.60" x2="337.00" y2="285.60" stroke="#000" stroke-width="1.00"/>
<line x1="353.60" y1="282.60" x2="353.60" y2="285.60" stroke="#000" stroke-width="1.00"/>
<line x1="320.40" y1="212.10" x2="320.40" y2="229.20" stroke="#222" stroke-width="1.10"/>
<line x1="317.60" y1="212.10" x2="323.20" y2="212.10" stroke="#222" stroke-width="1.20"/>
<rect x="314.80" y="229.20" width="11.20" height="53.40" fill="#000" stroke="#000" stroke-width="1.20"/>
<line x1="337.00" y1="210.60" x2="337.00" y2="229.40" stroke="#222" stroke-width="1.10"/>
<line x1="334.20" y1="210.60" x2="339.80" y2="210.60" stroke="#222" stroke-width="1.20"/>
<rect x="331.40" y="229.40" width="11.20" height="53.20" fill="#6ef2f2" stroke="#000" stroke-width="1.20"/>
<line x1="353.60" y1="212.10" x2="353.60" y2="232.70" stroke="#222" stroke-width="1.10"/>
<line x1="350.80" y1="212.10" x2="356.40" y2="212.10" stroke="#222" stroke-width="1.20"/>
<rect x="348.00" y="232.70" width="11.20" height="49.90" fill="#f01010" stroke="#000" stroke-width="1.20"/>
<text x="247.00" y="237.20" font-size="7.00" text-anchor="middle" textLength="51.00" lengthAdjust="spacingAndGlyphs" transform="rotate(-90 247.00 237.20)">pg / ml plasma</text>
<text x="289.40" y="291.00" font-size="6.80" text-anchor="end" transform="rotate(-45 289.40 291.00)">WT baseline</text>
<text x="306.20" y="291.00" font-size="6.80" text-anchor="end" transform="rotate(-45 306.20 291.00)">PAD4-/- baseline</text>
<text x="322.90" y="291.00" font-size="6.80" text-anchor="end" transform="rotate(-45 322.90 291.00)">PAD4+/+ 18h</text>
<text x="339.50" y="291.00" font-size="6.80" text-anchor="end" transform="rotate(-45 339.50 291.00)">PAD4+/- 18h</text>
<text x="356.10" y="291.00" font-size="6.80" text-anchor="end" transform="rotate(-45 356.10 291.00)">PAD4-/- 18h</text>
<text transform="translate(369.79 174.90) scale(0.988 1)" font-size="12.20" style="stroke-width:0.75px">F</text>
<text x="438.80" y="175.80" font-size="8.90" text-anchor="middle">IL-10</text>
<text x="439.10" y="185.20" font-size="8.90" text-anchor="middle" textLength="66.60" lengthAdjust="spacingAndGlyphs">high-grade CLP</text>
<line x1="408.80" y1="191.30" x2="408.80" y2="283.20" stroke="#000" stroke-width="1.60"/>
<line x1="405.80" y1="282.60" x2="408.80" y2="282.60" stroke="#000" stroke-width="1.60"/>
<text x="405.60" y="285.00" font-size="7.00" text-anchor="end" textLength="3.45" lengthAdjust="spacingAndGlyphs" style="stroke-width:0.12px">0</text>
<line x1="405.80" y1="264.46" x2="408.80" y2="264.46" stroke="#000" stroke-width="1.60"/>
<text x="405.60" y="266.86" font-size="7.00" text-anchor="end" textLength="13.79" lengthAdjust="spacingAndGlyphs" style="stroke-width:0.12px">2000</text>
<line x1="405.80" y1="246.32" x2="408.80" y2="246.32" stroke="#000" stroke-width="1.60"/>
<text x="405.60" y="248.72" font-size="7.00" text-anchor="end" textLength="13.79" lengthAdjust="spacingAndGlyphs" style="stroke-width:0.12px">4000</text>
<line x1="405.80" y1="228.18" x2="408.80" y2="228.18" stroke="#000" stroke-width="1.60"/>
<text x="405.60" y="230.58" font-size="7.00" text-anchor="end" textLength="13.79" lengthAdjust="spacingAndGlyphs" style="stroke-width:0.12px">6000</text>
<line x1="405.80" y1="210.04" x2="408.80" y2="210.04" stroke="#000" stroke-width="1.60"/>
<text x="405.60" y="212.44" font-size="7.00" text-anchor="end" textLength="13.79" lengthAdjust="spacingAndGlyphs" style="stroke-width:0.12px">8000</text>
<line x1="405.80" y1="191.90" x2="408.80" y2="191.90" stroke="#000" stroke-width="1.60"/>
<text x="405.60" y="194.30" font-size="7.00" text-anchor="end" textLength="17.24" lengthAdjust="spacingAndGlyphs" style="stroke-width:0.12px">10000</text>
<line x1="408.20" y1="282.60" x2="494.00" y2="282.60" stroke="#000" stroke-width="1.60"/>
<line x1="417.30" y1="282.60" x2="417.30" y2="285.60" stroke="#000" stroke-width="1.00"/>
<line x1="433.60" y1="282.60" x2="433.60" y2="285.60" stroke="#000" stroke-width="1.00"/>
<line x1="450.50" y1="282.60" x2="450.50" y2="285.60" stroke="#000" stroke-width="1.00"/>
<line x1="467.00" y1="282.60" x2="467.00" y2="285.60" stroke="#000" stroke-width="1.00"/>
<line x1="483.80" y1="282.60" x2="483.80" y2="285.60" stroke="#000" stroke-width="1.00"/>
<line x1="450.50" y1="227.50" x2="450.50" y2="236.80" stroke="#222" stroke-width="1.10"/>
<line x1="447.70" y1="227.50" x2="453.30" y2="227.50" stroke="#222" stroke-width="1.20"/>
<rect x="444.90" y="236.80" width="11.20" height="45.80" fill="#000" stroke="#000" stroke-width="1.20"/>
<line x1="467.00" y1="201.40" x2="467.00" y2="222.90" stroke="#222" stroke-width="1.10"/>
<line x1="464.20" y1="201.40" x2="469.80" y2="201.40" stroke="#222" stroke-width="1.20"/>
<rect x="461.40" y="222.90" width="11.20" height="59.70" fill="#6ef2f2" stroke="#000" stroke-width="1.20"/>
<line x1="483.80" y1="197.60" x2="483.80" y2="223.30" stroke="#222" stroke-width="1.10"/>
<line x1="481.00" y1="197.60" x2="486.60" y2="197.60" stroke="#222" stroke-width="1.20"/>
<rect x="478.20" y="223.30" width="11.20" height="59.30" fill="#f01010" stroke="#000" stroke-width="1.20"/>
<text x="378.60" y="237.20" font-size="7.00" text-anchor="middle" textLength="51.00" lengthAdjust="spacingAndGlyphs" transform="rotate(-90 378.60 237.20)">pg / ml plasma</text>
<text x="419.80" y="291.00" font-size="6.80" text-anchor="end" transform="rotate(-45 419.80 291.00)">WT baseline</text>
<text x="436.10" y="291.00" font-size="6.80" text-anchor="end" transform="rotate(-45 436.10 291.00)">PAD4-/- baseline</text>
<text x="453.00" y="291.00" font-size="6.80" text-anchor="end" transform="rotate(-45 453.00 291.00)">PAD4+/+ 18h</text>
<text x="469.50" y="291.00" font-size="6.80" text-anchor="end" transform="rotate(-45 469.50 291.00)">PAD4+/- 18h</text>
<text x="486.30" y="291.00" font-size="6.80" text-anchor="end" transform="rotate(-45 486.30 291.00)">PAD4-/- 18h</text>
<text transform="translate(0.79 351.60) scale(0.815 1)" font-size="12.20" style="stroke-width:0.75px">G</text>
<text x="101.60" y="349.80" font-size="9.00" text-anchor="middle" textLength="62.30" lengthAdjust="spacingAndGlyphs">Survival curve</text>
<text x="101.80" y="360.20" font-size="9.00" text-anchor="middle" textLength="68.80" lengthAdjust="spacingAndGlyphs">high-grade CLP</text>
<text x="101.60" y="370.60" font-size="9.00" text-anchor="middle" textLength="66.90" lengthAdjust="spacingAndGlyphs">with antibiotics</text>
<line x1="26.80" y1="474.20" x2="30.00" y2="474.20" stroke="#000" stroke-width="1.60"/>
<text x="26.40" y="476.70" font-size="7.40" text-anchor="end" textLength="3.62" lengthAdjust="spacingAndGlyphs" style="stroke-width:0.12px">0</text>
<line x1="26.80" y1="455.16" x2="30.00" y2="455.16" stroke="#000" stroke-width="1.60"/>
<text x="26.40" y="457.66" font-size="7.40" text-anchor="end" textLength="7.23" lengthAdjust="spacingAndGlyphs" style="stroke-width:0.12px">20</text>
<line x1="26.80" y1="436.12" x2="30.00" y2="436.12" stroke="#000" stroke-width="1.60"/>
<text x="26.40" y="438.62" font-size="7.40" text-anchor="end" textLength="7.23" lengthAdjust="spacingAndGlyphs" style="stroke-width:0.12px">40</text>
<line x1="26.80" y1="417.08" x2="30.00" y2="417.08" stroke="#000" stroke-width="1.60"/>
<text x="26.40" y="419.58" font-size="7.40" text-anchor="end" textLength="7.23" lengthAdjust="spacingAndGlyphs" style="stroke-width:0.12px">60</text>
<line x1="26.80" y1="398.04" x2="30.00" y2="398.04" stroke="#000" stroke-width="1.60"/>
<text x="26.40" y="400.54" font-size="7.40" text-anchor="end" textLength="7.23" lengthAdjust="spacingAndGlyphs" style="stroke-width:0.12px">80</text>
<line x1="26.80" y1="379.00" x2="30.00" y2="379.00" stroke="#000" stroke-width="1.60"/>
<text x="26.40" y="381.50" font-size="7.40" text-anchor="end" textLength="10.85" lengthAdjust="spacingAndGlyphs" style="stroke-width:0.12px">100</text>
<line x1="30.00" y1="378.40" x2="30.00" y2="474.80" stroke="#000" stroke-width="1.60"/>
<line x1="29.40" y1="474.20" x2="173.40" y2="474.20" stroke="#000" stroke-width="1.60"/>
<line x1="29.80" y1="474.20" x2="29.80" y2="477.20" stroke="#000" stroke-width="1.60"/>
<text x="29.80" y="484.50" font-size="7.40" text-anchor="middle" textLength="3.62" lengthAdjust="spacingAndGlyphs" style="stroke-width:0.12px">0</text>
<line x1="65.40" y1="474.20" x2="65.40" y2="477.20" stroke="#000" stroke-width="1.60"/>
<text x="65.40" y="484.50" font-size="7.40" text-anchor="middle" textLength="7.23" lengthAdjust="spacingAndGlyphs" style="stroke-width:0.12px">24</text>
<line x1="101.00" y1="474.20" x2="101.00" y2="477.20" stroke="#000" stroke-width="1.60"/>
<text x="101.00" y="484.50" font-size="7.40" text-anchor="middle" textLength="7.23" lengthAdjust="spacingAndGlyphs" style="stroke-width:0.12px">48</text>
<line x1="136.60" y1="474.20" x2="136.60" y2="477.20" stroke="#000" stroke-width="1.60"/>
<text x="136.60" y="484.50" font-size="7.40" text-anchor="middle" textLength="7.23" lengthAdjust="spacingAndGlyphs" style="stroke-width:0.12px">72</text>
<text x="172.50" y="484.80" font-size="7.40" text-anchor="middle" textLength="11.18" lengthAdjust="spacingAndGlyphs" style="stroke-width:0.12px">240</text>
<line x1="152.40" y1="480.00" x2="157.60" y2="469.40" stroke="#000" stroke-width="1.50"/>
<line x1="155.60" y1="480.00" x2="160.60" y2="469.40" stroke="#000" stroke-width="1.50"/>
<line x1="155.00" y1="463.30" x2="160.30" y2="452.30" stroke="#000" stroke-width="1.50"/>
<line x1="158.20" y1="463.30" x2="163.50" y2="452.30" stroke="#000" stroke-width="1.50"/>
<line x1="173.00" y1="474.20" x2="173.00" y2="476.20" stroke="#000" stroke-width="1.20"/>
<text x="66.20" y="497.30" font-size="7.60" textLength="69.40" lengthAdjust="spacingAndGlyphs">Hours after surgery</text>
<text x="7.00" y="425.60" font-size="8.00" text-anchor="middle" textLength="59.00" lengthAdjust="spacingAndGlyphs" transform="rotate(-90 7.00 425.60)">Percent survival</text>
<path d="M73.0 379.00 V389.57 H87.2 V410.70 H88.6 V442.50 H91.5 V453.07 H98.3 V463.63 H108.5 V474.20" fill="none" stroke="#d42a3a" stroke-width="1.60" stroke-dasharray="1.9 2.43" stroke-dashoffset="1.08"/>
<path d="M30.6 379.00 H87.5 V398.04 H89.5 V417.08 H92.0 V426.60 H103.0 V445.64 H125.2 V455.16 H173.4" fill="none" stroke="#000" stroke-width="1.60" stroke-dasharray="1.9 2.43" stroke-dashoffset="1.08"/>
<text x="135.60" y="444.60" font-size="7.60" textLength="33.20" lengthAdjust="spacingAndGlyphs"><tspan font-style="italic">P</tspan> = 0.043</text>
<line x1="108.90" y1="390.50" x2="111.40" y2="390.50" stroke="#000" stroke-width="1.90"/>
<line x1="118.20" y1="390.50" x2="120.80" y2="390.50" stroke="#000" stroke-width="1.90"/>
<polygon points="113.40,391.50 116.20,391.50 114.80,389.00" fill="#000"/>
<line x1="108.90" y1="401.50" x2="111.40" y2="401.50" stroke="#d42a3a" stroke-width="1.90"/>
<line x1="118.20" y1="401.50" x2="120.80" y2="401.50" stroke="#d42a3a" stroke-width="1.90"/>
<polygon points="113.40,402.50 116.20,402.50 114.80,400.00" fill="#d42a3a"/>
<text x="126.40" y="393.10" font-size="7.80" style="font-weight:normal;stroke-width:0.4px" textLength="50.40" lengthAdjust="spacingAndGlyphs">PAD4+/+ n=10</text>
<text x="126.40" y="404.60" font-size="7.80" style="font-weight:normal;stroke-width:0.4px" textLength="42.00" lengthAdjust="spacingAndGlyphs">PAD4-/- n=9</text>
<text transform="translate(190.66 351.60) scale(0.908 1)" font-size="12.20" style="stroke-width:0.75px">H</text>
<line x1="235.70" y1="368.40" x2="235.70" y2="459.10" stroke="#000" stroke-width="1.60"/>
<line x1="234.90" y1="458.30" x2="296.00" y2="458.30" stroke="#000" stroke-width="1.60"/>
<line x1="233.10" y1="444.86" x2="235.70" y2="444.86" stroke="#000" stroke-width="0.75"/>
<line x1="233.10" y1="437.00" x2="235.70" y2="437.00" stroke="#000" stroke-width="0.75"/>
<line x1="233.10" y1="431.42" x2="235.70" y2="431.42" stroke="#000" stroke-width="0.75"/>
<line x1="233.10" y1="427.09" x2="235.70" y2="427.09" stroke="#000" stroke-width="0.75"/>
<line x1="233.10" y1="423.56" x2="235.70" y2="423.56" stroke="#000" stroke-width="0.75"/>
<line x1="233.10" y1="420.57" x2="235.70" y2="420.57" stroke="#000" stroke-width="0.75"/>
<line x1="233.10" y1="417.98" x2="235.70" y2="417.98" stroke="#000" stroke-width="0.75"/>
<line x1="233.10" y1="415.69" x2="235.70" y2="415.69" stroke="#000" stroke-width="0.75"/>
<line x1="233.10" y1="400.21" x2="235.70" y2="400.21" stroke="#000" stroke-width="0.75"/>
<line x1="233.10" y1="392.35" x2="235.70" y2="392.35" stroke="#000" stroke-width="0.75"/>
<line x1="233.10" y1="386.77" x2="235.70" y2="386.77" stroke="#000" stroke-width="0.75"/>
<line x1="233.10" y1="382.44" x2="235.70" y2="382.44" stroke="#000" stroke-width="0.75"/>
<line x1="233.10" y1="378.91" x2="235.70" y2="378.91" stroke="#000" stroke-width="0.75"/>
<line x1="233.10" y1="375.92" x2="235.70" y2="375.92" stroke="#000" stroke-width="0.75"/>
<line x1="233.10" y1="373.33" x2="235.70" y2="373.33" stroke="#000" stroke-width="0.75"/>
<line x1="233.10" y1="371.04" x2="235.70" y2="371.04" stroke="#000" stroke-width="0.75"/>
<line x1="231.90" y1="369.00" x2="235.70" y2="369.00" stroke="#000" stroke-width="1.10"/>
<text x="225.70" y="371.60" font-size="6.40" text-anchor="end" textLength="20.00" lengthAdjust="spacingAndGlyphs" style="stroke-width:0.15px">1.0×10</text>
<text x="226.10" y="369.10" font-size="4.30" textLength="5.20" lengthAdjust="spacingAndGlyphs" style="stroke-width:0.1px">10</text>
<line x1="231.90" y1="413.65" x2="235.70" y2="413.65" stroke="#000" stroke-width="1.10"/>
<text x="225.70" y="416.25" font-size="6.40" text-anchor="end" textLength="20.00" lengthAdjust="spacingAndGlyphs" style="stroke-width:0.15px">1.0×10</text>
<text x="226.10" y="413.75" font-size="4.30" textLength="5.20" lengthAdjust="spacingAndGlyphs" style="stroke-width:0.1px">05</text>
<line x1="231.90" y1="458.30" x2="235.70" y2="458.30" stroke="#000" stroke-width="1.10"/>
<text x="225.70" y="460.90" font-size="6.40" text-anchor="end" textLength="20.00" lengthAdjust="spacingAndGlyphs" style="stroke-width:0.15px">1.0×10</text>
<text x="226.10" y="458.40" font-size="4.30" textLength="5.20" lengthAdjust="spacingAndGlyphs" style="stroke-width:0.1px">00</text>
<line x1="251.00" y1="458.30" x2="251.00" y2="461.30" stroke="#000" stroke-width="1.00"/>
<line x1="280.20" y1="458.30" x2="280.20" y2="461.30" stroke="#000" stroke-width="1.00"/>
<text x="258.80" y="363.80" font-size="8.60" text-anchor="middle" textLength="24.10" lengthAdjust="spacingAndGlyphs">Blood</text>
<rect x="249.05" y="403.05" width="3.90" height="3.90" fill="#111"/>
<rect x="249.05" y="409.75" width="3.90" height="3.90" fill="#111"/>
<rect x="253.85" y="412.25" width="3.90" height="3.90" fill="#111"/>
<rect x="243.85" y="416.85" width="3.90" height="3.90" fill="#111"/>
<rect x="249.05" y="417.45" width="3.90" height="3.90" fill="#111"/>
<rect x="249.05" y="424.25" width="3.90" height="3.90" fill="#111"/>
<line x1="241.00" y1="410.80" x2="261.00" y2="410.80" stroke="#000" stroke-width="1.10"/>
<line x1="251.00" y1="408.60" x2="251.00" y2="415.20" stroke="#000" stroke-width="0.99"/>
<line x1="248.50" y1="408.60" x2="253.50" y2="408.60" stroke="#000" stroke-width="1.10"/>
<line x1="248.50" y1="415.20" x2="253.50" y2="415.20" stroke="#000" stroke-width="1.10"/>
<rect x="279.30" y="414.70" width="3.00" height="3.00" fill="#b3273a" stroke="#4a0a12" stroke-width="0.90"/>
<rect x="284.10" y="415.50" width="3.00" height="3.00" fill="#b3273a" stroke="#4a0a12" stroke-width="0.90"/>
<rect x="273.50" y="418.90" width="3.00" height="3.00" fill="#b3273a" stroke="#4a0a12" stroke-width="0.90"/>
<rect x="278.90" y="420.40" width="3.00" height="3.00" fill="#b3273a" stroke="#4a0a12" stroke-width="0.90"/>
<rect x="278.70" y="456.80" width="3.00" height="3.00" fill="#b3273a" stroke="#4a0a12" stroke-width="0.90"/>
<line x1="270.40" y1="419.40" x2="290.40" y2="419.40" stroke="#000" stroke-width="1.10"/>
<line x1="280.40" y1="419.40" x2="280.40" y2="419.40" stroke="#000" stroke-width="0.99"/>
<line x1="280.40" y1="419.40" x2="280.40" y2="419.40" stroke="#000" stroke-width="1.10"/>
<line x1="280.40" y1="419.40" x2="280.40" y2="419.40" stroke="#000" stroke-width="1.10"/>
<text x="253.00" y="467.00" font-size="6.60" text-anchor="end" transform="rotate(-45 253.00 467.00)">PAD4+/+ 24h</text>
<text x="282.30" y="467.00" font-size="6.60" text-anchor="end" transform="rotate(-45 282.30 467.00)">PAD4-/- 24h</text>
<text x="191.60" y="412.30" font-size="7.00" text-anchor="middle" textLength="25.50" lengthAdjust="spacingAndGlyphs" transform="rotate(-90 191.60 412.30)">CFU/ml</text>
<line x1="348.10" y1="368.90" x2="348.10" y2="459.10" stroke="#000" stroke-width="1.60"/>
<line x1="347.30" y1="458.30" x2="395.50" y2="458.30" stroke="#000" stroke-width="1.60"/>
<line x1="345.50" y1="444.93" x2="348.10" y2="444.93" stroke="#000" stroke-width="0.75"/>
<line x1="345.50" y1="437.12" x2="348.10" y2="437.12" stroke="#000" stroke-width="0.75"/>
<line x1="345.50" y1="431.57" x2="348.10" y2="431.57" stroke="#000" stroke-width="0.75"/>
<line x1="345.50" y1="427.27" x2="348.10" y2="427.27" stroke="#000" stroke-width="0.75"/>
<line x1="345.50" y1="423.75" x2="348.10" y2="423.75" stroke="#000" stroke-width="0.75"/>
<line x1="345.50" y1="420.78" x2="348.10" y2="420.78" stroke="#000" stroke-width="0.75"/>
<line x1="345.50" y1="418.20" x2="348.10" y2="418.20" stroke="#000" stroke-width="0.75"/>
<line x1="345.50" y1="415.93" x2="348.10" y2="415.93" stroke="#000" stroke-width="0.75"/>
<line x1="345.50" y1="400.53" x2="348.10" y2="400.53" stroke="#000" stroke-width="0.75"/>
<line x1="345.50" y1="392.72" x2="348.10" y2="392.72" stroke="#000" stroke-width="0.75"/>
<line x1="345.50" y1="387.17" x2="348.10" y2="387.17" stroke="#000" stroke-width="0.75"/>
<line x1="345.50" y1="382.87" x2="348.10" y2="382.87" stroke="#000" stroke-width="0.75"/>
<line x1="345.50" y1="379.35" x2="348.10" y2="379.35" stroke="#000" stroke-width="0.75"/>
<line x1="345.50" y1="376.38" x2="348.10" y2="376.38" stroke="#000" stroke-width="0.75"/>
<line x1="345.50" y1="373.80" x2="348.10" y2="373.80" stroke="#000" stroke-width="0.75"/>
<line x1="345.50" y1="371.53" x2="348.10" y2="371.53" stroke="#000" stroke-width="0.75"/>
<line x1="344.30" y1="369.50" x2="348.10" y2="369.50" stroke="#000" stroke-width="1.10"/>
<text x="338.10" y="372.10" font-size="6.40" text-anchor="end" textLength="20.00" lengthAdjust="spacingAndGlyphs" style="stroke-width:0.15px">1.0×10</text>
<text x="338.50" y="369.60" font-size="4.30" textLength="5.20" lengthAdjust="spacingAndGlyphs" style="stroke-width:0.1px">10</text>
<line x1="344.30" y1="413.90" x2="348.10" y2="413.90" stroke="#000" stroke-width="1.10"/>
<text x="338.10" y="416.50" font-size="6.40" text-anchor="end" textLength="20.00" lengthAdjust="spacingAndGlyphs" style="stroke-width:0.15px">1.0×10</text>
<text x="338.50" y="414.00" font-size="4.30" textLength="5.20" lengthAdjust="spacingAndGlyphs" style="stroke-width:0.1px">05</text>
<line x1="344.30" y1="458.30" x2="348.10" y2="458.30" stroke="#000" stroke-width="1.10"/>
<text x="338.10" y="460.90" font-size="6.40" text-anchor="end" textLength="20.00" lengthAdjust="spacingAndGlyphs" style="stroke-width:0.15px">1.0×10</text>
<text x="338.50" y="458.40" font-size="4.30" textLength="5.20" lengthAdjust="spacingAndGlyphs" style="stroke-width:0.1px">00</text>
<line x1="363.00" y1="458.30" x2="363.00" y2="461.30" stroke="#000" stroke-width="1.00"/>
<line x1="392.60" y1="458.30" x2="392.60" y2="461.30" stroke="#000" stroke-width="1.00"/>
<text x="371.00" y="363.20" font-size="8.60" text-anchor="middle" textLength="21.70" lengthAdjust="spacingAndGlyphs">Liver</text>
<text x="304.20" y="413.10" font-size="7.40" text-anchor="middle" textLength="52.00" lengthAdjust="spacingAndGlyphs" transform="rotate(-90 304.20 413.10)">CFU/g of tissue</text>
<rect x="358.05" y="396.35" width="3.90" height="3.90" fill="#111"/>
<rect x="363.85" y="394.55" width="3.90" height="3.90" fill="#111"/>
<rect x="355.75" y="402.65" width="3.90" height="3.90" fill="#111"/>
<rect x="360.95" y="403.65" width="3.90" height="3.90" fill="#111"/>
<rect x="366.65" y="400.95" width="3.90" height="3.90" fill="#111"/>
<rect x="360.95" y="410.75" width="3.90" height="3.90" fill="#111"/>
<line x1="353.60" y1="400.50" x2="372.40" y2="400.50" stroke="#000" stroke-width="1.10"/>
<line x1="363.00" y1="400.50" x2="363.00" y2="400.50" stroke="#000" stroke-width="0.99"/>
<line x1="363.00" y1="400.50" x2="363.00" y2="400.50" stroke="#000" stroke-width="1.10"/>
<line x1="363.00" y1="400.50" x2="363.00" y2="400.50" stroke="#000" stroke-width="1.10"/>
<rect x="388.00" y="400.20" width="3.00" height="3.00" fill="#b3273a" stroke="#4a0a12" stroke-width="0.90"/>
<rect x="394.20" y="399.50" width="3.00" height="3.00" fill="#b3273a" stroke="#4a0a12" stroke-width="0.90"/>
<rect x="388.70" y="404.30" width="3.00" height="3.00" fill="#b3273a" stroke="#4a0a12" stroke-width="0.90"/>
<rect x="394.20" y="409.10" width="3.00" height="3.00" fill="#b3273a" stroke="#4a0a12" stroke-width="0.90"/>
<rect x="391.10" y="415.40" width="3.00" height="3.00" fill="#b3273a" stroke="#4a0a12" stroke-width="0.90"/>
<line x1="383.00" y1="404.60" x2="402.20" y2="404.60" stroke="#000" stroke-width="1.10"/>
<line x1="392.60" y1="404.60" x2="392.60" y2="404.60" stroke="#000" stroke-width="0.99"/>
<line x1="392.60" y1="404.60" x2="392.60" y2="404.60" stroke="#000" stroke-width="1.10"/>
<line x1="392.60" y1="404.60" x2="392.60" y2="404.60" stroke="#000" stroke-width="1.10"/>
<text x="365.00" y="467.00" font-size="6.60" text-anchor="end" transform="rotate(-45 365.00 467.00)">PAD4+/+ 24h</text>
<text x="394.60" y="467.00" font-size="6.60" text-anchor="end" transform="rotate(-45 394.60 467.00)">PAD4-/- 24h</text>
<line x1="460.40" y1="369.60" x2="460.40" y2="459.10" stroke="#000" stroke-width="1.60"/>
<line x1="459.60" y1="458.30" x2="520.00" y2="458.30" stroke="#000" stroke-width="1.60"/>
<line x1="457.80" y1="445.04" x2="460.40" y2="445.04" stroke="#000" stroke-width="0.75"/>
<line x1="457.80" y1="437.28" x2="460.40" y2="437.28" stroke="#000" stroke-width="0.75"/>
<line x1="457.80" y1="431.78" x2="460.40" y2="431.78" stroke="#000" stroke-width="0.75"/>
<line x1="457.80" y1="427.51" x2="460.40" y2="427.51" stroke="#000" stroke-width="0.75"/>
<line x1="457.80" y1="424.02" x2="460.40" y2="424.02" stroke="#000" stroke-width="0.75"/>
<line x1="457.80" y1="421.07" x2="460.40" y2="421.07" stroke="#000" stroke-width="0.75"/>
<line x1="457.80" y1="418.52" x2="460.40" y2="418.52" stroke="#000" stroke-width="0.75"/>
<line x1="457.80" y1="416.27" x2="460.40" y2="416.27" stroke="#000" stroke-width="0.75"/>
<line x1="457.80" y1="400.99" x2="460.40" y2="400.99" stroke="#000" stroke-width="0.75"/>
<line x1="457.80" y1="393.23" x2="460.40" y2="393.23" stroke="#000" stroke-width="0.75"/>
<line x1="457.80" y1="387.73" x2="460.40" y2="387.73" stroke="#000" stroke-width="0.75"/>
<line x1="457.80" y1="383.46" x2="460.40" y2="383.46" stroke="#000" stroke-width="0.75"/>
<line x1="457.80" y1="379.97" x2="460.40" y2="379.97" stroke="#000" stroke-width="0.75"/>
<line x1="457.80" y1="377.02" x2="460.40" y2="377.02" stroke="#000" stroke-width="0.75"/>
<line x1="457.80" y1="374.47" x2="460.40" y2="374.47" stroke="#000" stroke-width="0.75"/>
<line x1="457.80" y1="372.22" x2="460.40" y2="372.22" stroke="#000" stroke-width="0.75"/>
<line x1="456.60" y1="370.20" x2="460.40" y2="370.20" stroke="#000" stroke-width="1.10"/>
<text x="450.40" y="372.80" font-size="6.40" text-anchor="end" textLength="20.00" lengthAdjust="spacingAndGlyphs" style="stroke-width:0.15px">1.0×10</text>
<text x="450.80" y="370.30" font-size="4.30" textLength="5.20" lengthAdjust="spacingAndGlyphs" style="stroke-width:0.1px">10</text>
<line x1="456.60" y1="414.25" x2="460.40" y2="414.25" stroke="#000" stroke-width="1.10"/>
<text x="450.40" y="416.85" font-size="6.40" text-anchor="end" textLength="20.00" lengthAdjust="spacingAndGlyphs" style="stroke-width:0.15px">1.0×10</text>
<text x="450.80" y="414.35" font-size="4.30" textLength="5.20" lengthAdjust="spacingAndGlyphs" style="stroke-width:0.1px">05</text>
<line x1="456.60" y1="458.30" x2="460.40" y2="458.30" stroke="#000" stroke-width="1.10"/>
<text x="450.40" y="460.90" font-size="6.40" text-anchor="end" textLength="20.00" lengthAdjust="spacingAndGlyphs" style="stroke-width:0.15px">1.0×10</text>
<text x="450.80" y="458.40" font-size="4.30" textLength="5.20" lengthAdjust="spacingAndGlyphs" style="stroke-width:0.1px">00</text>
<line x1="475.20" y1="458.30" x2="475.20" y2="461.30" stroke="#000" stroke-width="1.00"/>
<line x1="505.00" y1="458.30" x2="505.00" y2="461.30" stroke="#000" stroke-width="1.00"/>
<text x="483.60" y="363.20" font-size="8.60" text-anchor="middle" textLength="21.20" lengthAdjust="spacingAndGlyphs">Lung</text>
<text x="416.40" y="413.00" font-size="7.40" text-anchor="middle" textLength="51.00" lengthAdjust="spacingAndGlyphs" transform="rotate(-90 416.40 413.00)">CFU/g of tissue</text>
<rect x="473.05" y="391.95" width="3.90" height="3.90" fill="#111"/>
<rect x="467.85" y="400.45" width="3.90" height="3.90" fill="#111"/>
<rect x="473.05" y="404.95" width="3.90" height="3.90" fill="#111"/>
<rect x="478.55" y="404.95" width="3.90" height="3.90" fill="#111"/>
<rect x="473.05" y="417.15" width="3.90" height="3.90" fill="#111"/>
<rect x="473.25" y="456.35" width="3.90" height="3.90" fill="#111"/>
<line x1="465.20" y1="400.20" x2="484.80" y2="400.20" stroke="#000" stroke-width="1.10"/>
<line x1="475.00" y1="397.50" x2="475.00" y2="406.90" stroke="#000" stroke-width="0.99"/>
<line x1="469.50" y1="397.50" x2="480.50" y2="397.50" stroke="#000" stroke-width="1.10"/>
<line x1="469.50" y1="406.90" x2="480.50" y2="406.90" stroke="#000" stroke-width="1.10"/>
<rect x="497.70" y="407.10" width="3.00" height="3.00" fill="#b3273a" stroke="#4a0a12" stroke-width="0.90"/>
<rect x="503.50" y="401.40" width="3.00" height="3.00" fill="#b3273a" stroke="#4a0a12" stroke-width="0.90"/>
<rect x="509.10" y="403.10" width="3.00" height="3.00" fill="#b3273a" stroke="#4a0a12" stroke-width="0.90"/>
<rect x="503.50" y="407.70" width="3.00" height="3.00" fill="#b3273a" stroke="#4a0a12" stroke-width="0.90"/>
<rect x="503.50" y="417.60" width="3.00" height="3.00" fill="#b3273a" stroke="#4a0a12" stroke-width="0.90"/>
<line x1="495.20" y1="406.30" x2="514.80" y2="406.30" stroke="#000" stroke-width="1.10"/>
<line x1="505.00" y1="406.30" x2="505.00" y2="406.30" stroke="#000" stroke-width="0.99"/>
<line x1="505.00" y1="406.30" x2="505.00" y2="406.30" stroke="#000" stroke-width="1.10"/>
<line x1="505.00" y1="406.30" x2="505.00" y2="406.30" stroke="#000" stroke-width="1.10"/>
<text x="477.20" y="467.00" font-size="6.60" text-anchor="end" transform="rotate(-45 477.20 467.00)">PAD4+/+ 24h</text>
<text x="507.00" y="467.00" font-size="6.60" text-anchor="end" transform="rotate(-45 507.00 467.00)">PAD4-/-24h</text>
</svg>
</body></html>
